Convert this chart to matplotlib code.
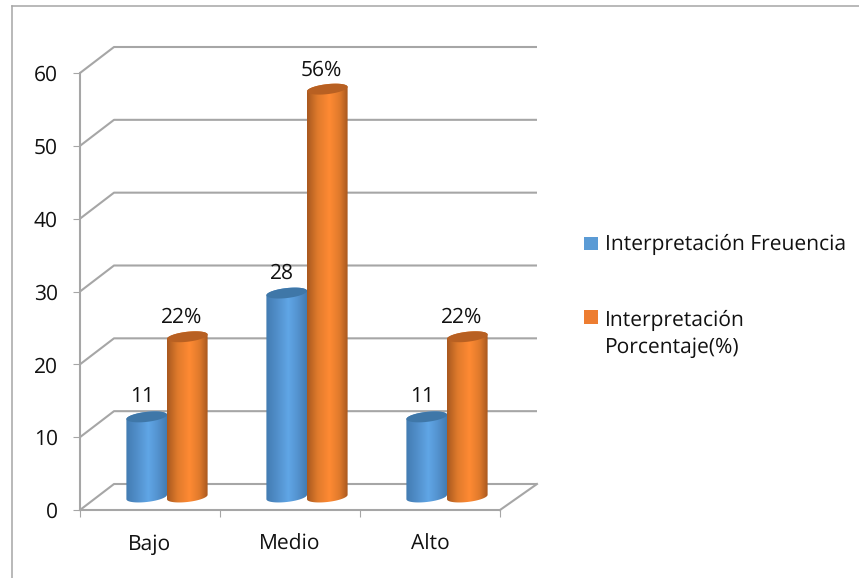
import numpy as np
import matplotlib
matplotlib.use('Agg')
import matplotlib.pyplot as plt
from matplotlib.colors import LinearSegmentedColormap
from matplotlib.lines import Line2D
from matplotlib.patches import Polygon, Rectangle

categories = ['Bajo', 'Medio', 'Alto']
frecuencia = [11, 28, 11]
porcentaje = [22, 56, 22]
frecuencia_labels = ['11', '28', '11']
porcentaje_labels = ['22%', '56%', '22%']
y_ticks = [0, 10, 20, 30, 40, 50, 60]
legend_labels = ['Interpretación Freuencia', 'Interpretación\nPorcentaje(%)']

plt.rcParams['font.family'] = ['Open Sans', 'DejaVu Sans']
plt.rcParams['text.hinting'] = 'none'
plt.rcParams['text.hinting_factor'] = 1

W, H = 859, 578
fig = plt.figure(figsize=(W / 100, H / 100), dpi=100)
ax = fig.add_axes([80 / W, (H - 510) / H, 420 / W, 437 / H])
ax.patch.set_alpha(0)

# pixel sizes in data units
px_x = 3 / 420
px_y = 60 / 437
GRAY = '#a6a6a6'
INK = '#111111'
FONT = 15

# fake 3d box: the walls sit 34 px right and 26 px up from the front axes
back_x = 34 * px_x
back_y = 26 * px_y
for tick in y_ticks:
    ax.plot([0, back_x, 3 + 37 * px_x], [tick, tick + back_y, tick + back_y],
            color=GRAY, lw=1.5, clip_on=False, zorder=1, solid_capstyle='butt')
ax.plot([3, 3 + 37 * px_x], [0, back_y], color=GRAY, lw=1.5, clip_on=False, zorder=1)

blue_stops = [(0, '#437cb2'), (0.3, '#5391cd'), (0.55, '#60a6e6'), (0.8, '#5391cd'), (1, '#437cb2')]
orange_stops = [(0, '#a9591f'), (0.25, '#df7a2c'), (0.55, '#ff8a33'), (0.8, '#e07a2c'), (1, '#a9591f')]


def cylinder(x_center, value, stops, color_top, z):
    half = 20.3 * px_x
    t = np.linspace(0, 2 * np.pi, 73)
    ex = half * np.cos(t)
    ey = 5.0 * px_y * np.sin(t) + 2.2 * px_y * np.cos(t)
    base = 13 * px_y
    top = base + value

    # body outline is the lower half of the bottom ellipse plus the top ellipse
    outline = np.column_stack([np.r_[x_center + ex[36:73], x_center + ex[0:37]],
                               np.r_[base + ey[36:73], top + ey[0:37]]])
    body = Polygon(outline, closed=True, facecolor='none', edgecolor='none', zorder=z)
    ax.add_patch(body)

    cmap = LinearSegmentedColormap.from_list('c', stops)
    grad = np.linspace(0, 1, 64).reshape(1, -1)
    im = ax.imshow(grad, cmap=cmap, aspect='auto', interpolation='bilinear',
                   extent=[x_center - half, x_center + half, 0, top + 8 * px_y], zorder=z)
    im.set_clip_path(body)

    cap = Polygon(np.column_stack([x_center + ex, top + ey]), closed=True,
                  facecolor=color_top, edgecolor='none', zorder=z + 0.1)
    ax.add_patch(cap)
    return top


for i in range(len(categories)):
    x_mid = i + 0.5 + 17 * px_x
    x_blue = x_mid - 20.3 * px_x
    x_orange = x_mid + 20.3 * px_x
    top = cylinder(x_blue, frecuencia[i], blue_stops, '#3f77a8', 2 + i)
    ax.annotate(frecuencia_labels[i], (x_blue, top), xytext=(-5, 20), textcoords='offset pixels',
                ha='center', va='center', fontsize=FONT, color=INK, annotation_clip=False, zorder=9)
    top = cylinder(x_orange, porcentaje[i], orange_stops, '#b86022', 2.3 + i)
    ax.annotate(porcentaje_labels[i], (x_orange, top), xytext=(-6, 19), textcoords='offset pixels',
                ha='center', va='center', fontsize=FONT, color=INK, annotation_clip=False, zorder=9)

ax.set_xlim(0, 3)
ax.set_ylim(0, 60)
ax.set_yticks(y_ticks)
ax.set_xticks([0, 1, 2, 3])
ax.set_xticklabels([])
ax.set_xticks([0.5, 1.5, 2.5], minor=True)
ax.set_xticklabels(categories, minor=True)
ax.tick_params(axis='x', which='minor', length=0, pad=17, labelsize=FONT, labelcolor=INK)
ax.tick_params(axis='x', which='major', length=5, width=0.8, color=GRAY)
ax.tick_params(axis='y', length=5, width=0.8, color=GRAY, pad=11, labelsize=FONT, labelcolor=INK)
for side in ['top', 'right']:
    ax.spines[side].set_visible(False)
for side in ['left', 'bottom']:
    ax.spines[side].set_color(GRAY)
    ax.spines[side].set_linewidth(1.5)

# legend by hand, the square sits on the first line of a two line entry
fig.add_artist(Rectangle((584 / W, 1 - 250 / H), 14 / W, 12.5 / H, transform=fig.transFigure,
                         facecolor='#5b9bd5', edgecolor='none'))
fig.add_artist(Rectangle((584 / W, 1 - 324 / H), 14 / W, 14 / H, transform=fig.transFigure,
                         facecolor='#ed7d31', edgecolor='none'))
fig.text(605 / W, 1 - 249.5 / H, legend_labels[0], fontsize=FONT, color=INK, va='baseline')
fig.text(605 / W, 1 - 353 / H, legend_labels[1], fontsize=FONT, color=INK, va='baseline',
         linespacing=1.4)

# outer chart frame, only the top and left edges are in the crop
fig.add_artist(Line2D([12 / W, 12 / W], [0, 1 - 6 / H], color=GRAY, lw=1.1))
fig.add_artist(Line2D([12 / W, 1], [1 - 6 / H, 1 - 6 / H], color=GRAY, lw=1.1))

fig.savefig('out.png', dpi=100)
